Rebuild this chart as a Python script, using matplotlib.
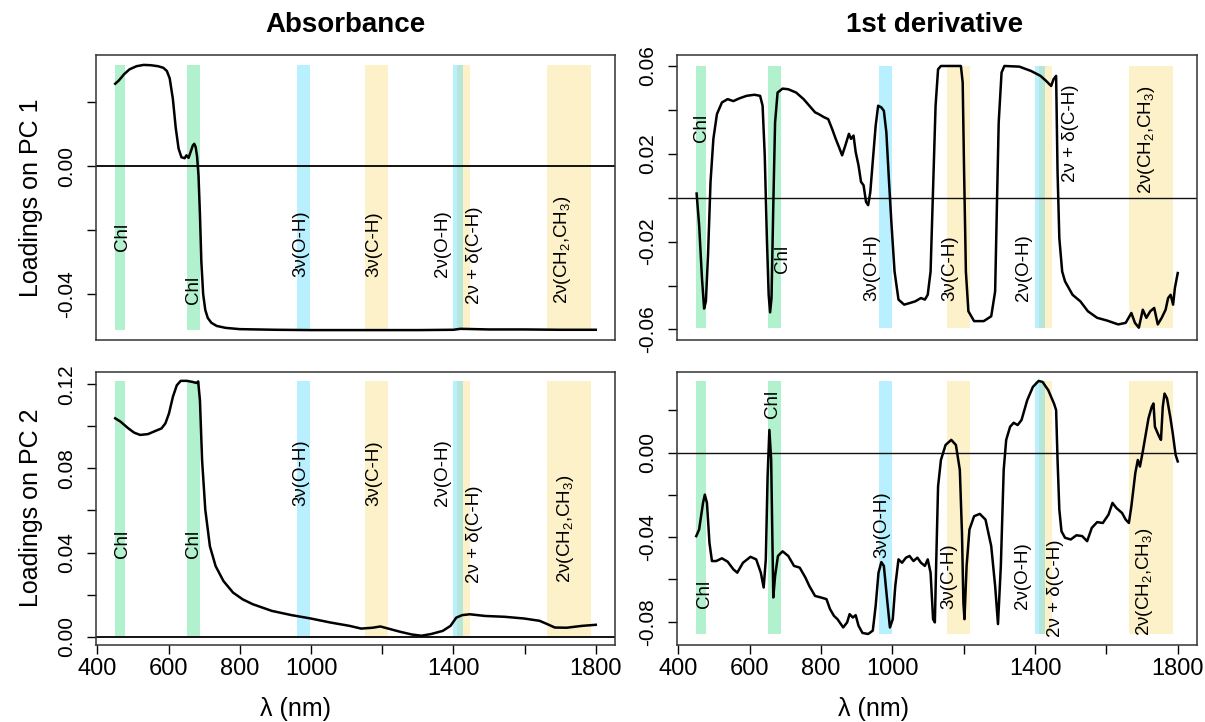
import numpy as np
import matplotlib
matplotlib.use("Agg")
import matplotlib.pyplot as plt

plt.rcParams['font.family'] = ['Liberation Sans', 'DejaVu Sans']
plt.rcParams['mathtext.fontset'] = 'custom'
plt.rcParams['mathtext.rm'] = 'Liberation Sans'
plt.rcParams['mathtext.it'] = 'Liberation Sans'

# ---- loadings (wavelength in nm, loading) ----
abs_pc1_nm = [450, 460, 475, 490, 510, 530, 550, 570, 585, 595, 603, 612, 620, 628,
              636, 645, 650, 656, 662, 668, 672, 676, 680, 684, 688, 692, 697, 703,
              710, 720, 735, 760, 800, 900, 1000, 1100, 1200, 1300, 1400, 1420, 1500,
              1600, 1700, 1800]
abs_pc1 = [0.0258, 0.0268, 0.0288, 0.0303, 0.0313, 0.0317, 0.0316, 0.0313, 0.0308,
           0.0298, 0.0275, 0.0210, 0.0120, 0.0055, 0.0028, 0.0025, 0.0034, 0.0026,
           0.0045, 0.0065, 0.0070, 0.0060, 0.0030, -0.0030, -0.0150, -0.0300, -0.0400,
           -0.0450, -0.0475, -0.0490, -0.0500, -0.0506, -0.0510, -0.0512, -0.0513,
           -0.0513, -0.0513, -0.0513, -0.0512, -0.0509, -0.0511, -0.0511, -0.0512,
           -0.0512]

abs_pc2_nm = [450, 465, 487, 503, 520, 542, 563, 580, 591, 601, 612, 623, 634, 651,
              667, 678, 683, 688, 694, 703, 716, 732, 754, 781, 808, 836, 890, 945,
              999, 1054, 1108, 1141, 1173, 1195, 1217, 1250, 1283, 1310, 1337, 1370,
              1392, 1408, 1425, 1446, 1489, 1544, 1598, 1642, 1664, 1685, 1718, 1762,
              1800]
abs_pc2 = [0.1038, 0.1022, 0.0990, 0.0970, 0.0959, 0.0963, 0.0978, 0.0990, 0.1014,
           0.1061, 0.1140, 0.1195, 0.1216, 0.1216, 0.1211, 0.1206, 0.1213, 0.1124,
           0.0840, 0.0604, 0.0430, 0.0336, 0.0265, 0.0210, 0.0178, 0.0155, 0.0123,
           0.0103, 0.0087, 0.0068, 0.0052, 0.0039, 0.0043, 0.0049, 0.0039, 0.0024,
           0.0011, 0.0005, 0.0013, 0.0028, 0.0052, 0.0091, 0.0103, 0.0107, 0.0099,
           0.0095, 0.0087, 0.0076, 0.0060, 0.0044, 0.0043, 0.0052, 0.0057]

der_pc1_nm = [451, 458, 466, 472, 477, 483, 490, 498, 508, 522, 538, 554, 570, 591,
              613, 629, 636, 642, 648, 653, 657, 661, 666, 671, 678, 692, 708, 730,
              751, 767, 783, 793, 809, 820, 831, 841, 852, 859, 868, 878, 884, 891,
              897, 905, 912, 919, 926, 932, 938, 944, 953, 960, 969, 976, 983, 990,
              997, 1006, 1017, 1033, 1048, 1064, 1080, 1091, 1099, 1107, 1114, 1121,
              1128, 1136, 1192, 1197, 1201, 1206, 1213, 1229, 1256, 1277, 1288, 1293,
              1298, 1306, 1314, 1356, 1389, 1415, 1431, 1445, 1452, 1459, 1463, 1468,
              1476, 1484, 1505, 1527, 1548, 1574, 1601, 1633, 1654, 1670, 1680, 1691,
              1702, 1712, 1723, 1734, 1744, 1755, 1766, 1773, 1780, 1787, 1792, 1800]
der_pc1 = [0.0019, -0.0124, -0.0366, -0.0505, -0.0472, -0.0260, 0.0072, 0.0268,
           0.0381, 0.0434, 0.0449, 0.0440, 0.0452, 0.0464, 0.0469, 0.0464, 0.0419,
           0.0193, -0.0185, -0.0442, -0.0522, -0.0457, -0.0034, 0.0343, 0.0479,
           0.0497, 0.0494, 0.0479, 0.0449, 0.0419, 0.0389, 0.0381, 0.0366, 0.0358,
           0.0313, 0.0268, 0.0223, 0.0193, 0.0238, 0.0291, 0.0268, 0.0283, 0.0208,
           0.0147, 0.0072, 0.0057, -0.0019, -0.0034, 0.0026, 0.0147, 0.0328, 0.0419,
           0.0411, 0.0396, 0.0298, 0.0087, -0.0110, -0.0336, -0.0464, -0.0487,
           -0.0480, -0.0472, -0.0457, -0.0464, -0.0442, -0.0336, 0.0042, 0.0419,
           0.0585, 0.0600, 0.0600, 0.0525, 0.0117, -0.0336, -0.0517, -0.0562,
           -0.0562, -0.0540, -0.0427, -0.0034, 0.0343, 0.0570, 0.0600, 0.0597,
           0.0577, 0.0555, 0.0532, 0.0509, 0.0540, 0.0555, 0.0117, -0.0185, -0.0336,
           -0.0381, -0.0442, -0.0472, -0.0517, -0.0547, -0.0559, -0.0577, -0.0570,
           -0.0525, -0.0570, -0.0592, -0.0510, -0.0547, -0.0517, -0.0502, -0.0577,
           -0.0547, -0.0510, -0.0457, -0.0442, -0.0487, -0.0411, -0.0343]

der_pc2_nm = [450, 458, 469, 474, 480, 487, 494, 506, 522, 538, 554, 565, 581, 602,
              618, 631, 639, 645, 650, 655, 660, 666, 671, 679, 692, 708, 724, 740,
              756, 767, 783, 799, 815, 825, 836, 846, 862, 873, 880, 889, 897, 905,
              916, 932, 945, 953, 961, 969, 976, 985, 993, 1001, 1008, 1017, 1027,
              1038, 1048, 1059, 1070, 1080, 1091, 1099, 1107, 1114, 1119, 1123, 1128,
              1136, 1149, 1165, 1178, 1189, 1195, 1199, 1202, 1208, 1216, 1229, 1245,
              1261, 1277, 1288, 1296, 1304, 1312, 1319, 1330, 1340, 1351, 1362, 1378,
              1394, 1410, 1421, 1437, 1453, 1459, 1463, 1468, 1474, 1484, 1500, 1516,
              1532, 1546, 1559, 1574, 1590, 1606, 1617, 1628, 1644, 1654, 1663, 1670,
              1681, 1688, 1694, 1702, 1710, 1718, 1727, 1732, 1736, 1742, 1748, 1753,
              1758, 1763, 1770, 1779, 1786, 1794, 1800]
der_pc2 = [-0.0395, -0.0364, -0.0238, -0.0199, -0.0238, -0.0427, -0.0513, -0.0513,
           -0.0500, -0.0516, -0.0552, -0.0568, -0.0521, -0.0493, -0.0505, -0.0568,
           -0.0638, -0.0505, -0.0113, 0.0107, -0.0035, -0.0685, -0.0584, -0.0489,
           -0.0467, -0.0489, -0.0536, -0.0544, -0.0591, -0.0631, -0.0678, -0.0685,
           -0.0693, -0.0740, -0.0772, -0.0788, -0.0827, -0.0803, -0.0764, -0.0780,
           -0.0769, -0.0819, -0.0853, -0.0858, -0.0842, -0.0725, -0.0568, -0.0518,
           -0.0536, -0.0693, -0.0827, -0.0788, -0.0631, -0.0505, -0.0521, -0.0497,
           -0.0489, -0.0513, -0.0497, -0.0521, -0.0536, -0.0505, -0.0568, -0.0788,
           -0.0803, -0.0505, -0.0160, -0.0035, 0.0036, 0.0060, 0.0036, -0.0082,
           -0.0380, -0.0709, -0.0788, -0.0536, -0.0364, -0.0301, -0.0290, -0.0317,
           -0.0442, -0.0631, -0.0811, -0.0536, -0.0082, 0.0060, 0.0122, 0.0141,
           0.0130, 0.0154, 0.0248, 0.0311, 0.0339, 0.0334, 0.0295, 0.0232, 0.0201,
           -0.0035, -0.0270, -0.0372, -0.0403, -0.0411, -0.0391, -0.0395, -0.0419,
           -0.0356, -0.0329, -0.0333, -0.0293, -0.0238, -0.0262, -0.0286, -0.0317,
           -0.0333, -0.0254, -0.0097, -0.0035, -0.0066, 0.0005, 0.0083, 0.0162,
           0.0216, 0.0232, 0.0122, 0.0099, 0.0075, 0.0060, 0.0216, 0.0279, 0.0256,
           0.0169, 0.0091, -0.0011, -0.0042]

# ---- assignment bands ----
band_names = ['Chl', 'Chl', '3ν(O-H)', '3ν(C-H)', '2ν(O-H)', '2ν + δ(C-H)',
              '2ν(CH$_2$,CH$_3$)']
band_lo = [450, 652, 962, 1152, 1400, 1410, 1662]
band_hi = [478, 689, 998, 1217, 1427, 1448, 1786]
band_kind = ['chl', 'chl', 'oh', 'ch', 'oh', 'ch', 'ch']
band_colors = {'chl': ('#00d25a', 0.30), 'oh': ('#00ccff', 0.28), 'ch': ('#f5d040', 0.28)}
band_order = [0, 1, 2, 3, 5, 4, 6]

# label anchor (x nm, bottom of rotated text in data units) for each panel
lab_abs1 = ([470, 669, 972, 1176, 1369, 1459, 1707],
            [-0.0264, -0.0431, -0.0348, -0.0348, -0.0348, -0.0431, -0.0431])
lab_abs2 = ([470, 669, 972, 1176, 1369, 1459, 1716],
            [0.0375, 0.0375, 0.0620, 0.0620, 0.0620, 0.0257, 0.0257])
lab_der1 = ([464, 692, 942, 1160, 1367, 1500, 1713],
            [0.0253, -0.0343, -0.0472, -0.0472, -0.0472, 0.0072, 0.0019])
lab_der2 = ([474, 664, 969, 1158, 1365, 1458, 1707],
            [-0.0733, 0.0162, -0.0497, -0.0740, -0.0740, -0.0874, -0.0866])

W, H = 1205, 722
fig = plt.figure(figsize=(W / 100, H / 100), dpi=100)


def px_rect(x0, x1, y0, y1):
    return [x0 / W, 1 - y1 / H, (x1 - x0) / W, (y1 - y0) / H]


panels = [
    dict(rect=px_rect(96, 615, 55, 340), nm=abs_pc1_nm, y=abs_pc1, lab=lab_abs1,
         ylim=(-0.0544, 0.0348), yt=[-0.04, -0.02, 0.0, 0.02],
         ytl=['-0.04', '', '0.00', ''], xlab=False, zlw=1.4),
    dict(rect=px_rect(677, 1197, 55, 340), nm=der_pc1_nm, y=der_pc1, lab=lab_der1,
         ylim=(-0.0648, 0.0650), yt=[-0.06, -0.04, -0.02, 0.0, 0.02, 0.04, 0.06],
         ytl=['-0.06', '', '-0.02', '', '0.02', '', '0.06'], xlab=False, zlw=1.0),
    dict(rect=px_rect(96, 615, 372, 645), nm=abs_pc2_nm, y=abs_pc2, lab=lab_abs2,
         ylim=(-0.0039, 0.1258), yt=[0.0, 0.02, 0.04, 0.06, 0.08, 0.10, 0.12],
         ytl=['0.00', '', '0.04', '', '0.08', '', '0.12'], xlab=True, zlw=1.4),
    dict(rect=px_rect(677, 1197, 372, 645), nm=der_pc2_nm, y=der_pc2, lab=lab_der2,
         ylim=(-0.0910, 0.0381), yt=[-0.08, -0.06, -0.04, -0.02, 0.0, 0.02],
         ytl=['-0.08', '', '-0.04', '', '0.00', ''], xlab=True, zlw=1.0),
]

xticks = [400, 600, 800, 1000, 1200, 1400, 1600, 1800]
xticklabels = ['400', '600', '800', '1000', '', '1400', '', '1800']

for p in panels:
    ax = fig.add_axes(p['rect'])
    lo_y, hi_y = min(p['y']), max(p['y'])
    for i in band_order:
        c, a = band_colors[band_kind[i]]
        ax.fill_between([band_lo[i], band_hi[i]], lo_y, hi_y, color=c, alpha=a,
                        linewidth=0, zorder=1)
    ax.axhline(0, color='#111111', lw=p['zlw'], zorder=2)
    ax.plot(p['nm'], p['y'], color='black', lw=1.8, zorder=3)
    for name, tx, ty in zip(band_names, p['lab'][0], p['lab'][1]):
        ax.text(tx, ty, name, rotation=90, ha='center', va='bottom', fontsize=13.5,
                zorder=4)
    ax.set_xlim(396, 1854)
    ax.set_ylim(*p['ylim'])
    ax.set_yticks(p['yt'])
    ax.set_yticklabels(p['ytl'], rotation=90, va='center', ha='right', fontsize=15)
    ax.tick_params(axis='y', direction='out', length=6.5, width=1.0, pad=8)
    ax.set_xticks(xticks)
    if p['xlab']:
        ax.set_xticklabels(xticklabels, fontsize=17)
        ax.tick_params(axis='x', direction='out', length=6.5, width=1.0, pad=3)
    else:
        ax.tick_params(axis='x', bottom=False, labelbottom=False)
    for s in ax.spines.values():
        s.set_linewidth(1.1)
        s.set_color('#333333')

fig.text(31 / W, 1 - 198 / H, 'Loadings on PC 1', rotation=90, ha='center',
         va='center', fontsize=18)
fig.text(31 / W, 1 - 508 / H, 'Loadings on PC 2', rotation=90, ha='center',
         va='center', fontsize=18)
fig.text(345 / W, 1 - 25 / H, 'Absorbance', ha='center', va='center', fontsize=20,
         fontweight='bold')
fig.text(935 / W, 1 - 25 / H, '1st derivative', ha='center', va='center',
         fontsize=20, fontweight='bold')
fig.text(295 / W, 1 - 709 / H, 'λ (nm)', ha='center', va='center', fontsize=18)
fig.text(873 / W, 1 - 709 / H, 'λ (nm)', ha='center', va='center', fontsize=18)

fig.savefig('out.png', dpi=100)
